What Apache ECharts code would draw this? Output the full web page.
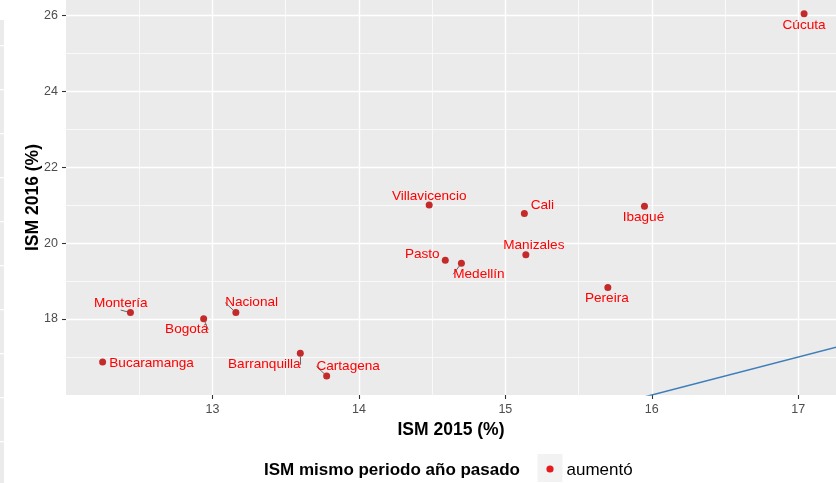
<!DOCTYPE html>
<html><head><meta charset="utf-8">
<script src="https://cdn.jsdelivr.net/npm/echarts@6/dist/echarts.min.js"></script>
<style>html,body{margin:0;padding:0;background:#fff}#c{width:836px;height:483px}</style>
</head><body><div id="c"></div>
<script>
// ---- data ----
const cities = ['Cúcuta', 'Ibagué', 'Pereira', 'Manizales', 'Cali', 'Villavicencio', 'Pasto', 'Medellín',
  'Montería', 'Bogotá', 'Nacional', 'Bucaramanga', 'Barranquilla', 'Cartagena'];
const ism2015 = [17.04, 15.95, 15.70, 15.14, 15.13, 14.48, 14.59, 14.70, 12.44, 12.94, 13.16, 12.25, 13.60, 13.78];
const ism2016 = [26.04, 20.97, 18.83, 19.69, 20.78, 21.00, 19.55, 19.47, 18.17, 18.01, 18.17, 16.87, 17.10, 16.50];
const xTicks = [13, 14, 15, 16, 17];
const yTicks = [18, 20, 22, 24, 26];
const identityLine = [15, 18];           // y = x reference line
const seriesName = 'aumentó';
const legendTitle = 'ISM mismo periodo año pasado';
const xTitle = 'ISM 2015 (%)';
const yTitle = 'ISM 2016 (%)';

// ---- label layout (pixel offsets of label centre from point) ----
const labelOffsets = [[0, 11.5], [-1, 11], [-1, 10.5], [8, -10], [18, -8], [0, -9], [-23, -5.5], [17.5, 11],
  [-9.7, -9.5], [-17, 11], [15.7, -10], [49, 1], [-36, 11.5], [21.5, -9.7]];
const labelSegments = [false, false, false, false, false, false, false, true,
  true, true, true, false, true, true];

const FONT = "'Liberation Sans', Arial, Helvetica, sans-serif";
const chart = echarts.init(document.getElementById('c'), null, {renderer: 'canvas'});

const scatterData = cities.map((c, i) => ({
  name: c,
  value: [ism2015[i], ism2016[i]],
  labelLine: {show: labelSegments[i]}
}));

// left decorative strip (edge of neighbouring panel)
const strip = [{type: 'rect', shape: {x: 0, y: 20, width: 4, height: 463}, style: {fill: '#EBEBEB'}, silent: true}];
for (let k = 0; k < 10; k++) {
  strip.push({type: 'rect', shape: {x: 0, y: 45 + 44 * k, width: 4, height: 1.2}, style: {fill: '#fff'}, silent: true});
}

chart.setOption({
  animation: false,
  backgroundColor: '#fff',
  grid: {left: 66, right: 0, top: 0, bottom: 88, show: true, backgroundColor: '#EBEBEB', borderWidth: 0},
  xAxis: {
    type: 'value', min: 12, max: 17.258, interval: 1,
    name: xTitle, nameLocation: 'middle', nameGap: 21,
    nameTextStyle: {fontFamily: FONT, fontWeight: 'bold', fontSize: 17.5, color: '#000'},
    axisLine: {show: false},
    axisTick: {show: true, length: 4, lineStyle: {color: '#333', width: 1.1}, customValues: xTicks},
    axisLabel: {customValues: xTicks, margin: 8, fontFamily: FONT, fontSize: 12.5, color: '#4D4D4D'},
    splitLine: {show: true, lineStyle: {color: '#fff', width: 1.4}},
    minorSplitLine: {show: true, lineStyle: {color: '#fff', width: 0.7}},
    minorTick: {show: false, splitNumber: 2}
  },
  yAxis: {
    type: 'value', min: 16, max: 26.4, interval: 2,
    name: yTitle, nameLocation: 'middle', nameGap: 24, nameMoveOverlap: false,
    nameTextStyle: {fontFamily: FONT, fontWeight: 'bold', fontSize: 17.5, color: '#000'},
    axisLine: {show: false},
    axisTick: {show: true, length: 4, lineStyle: {color: '#333', width: 1.1}, customValues: yTicks},
    axisLabel: {customValues: yTicks, margin: 8, fontFamily: FONT, fontSize: 12.5, color: '#4D4D4D'},
    splitLine: {show: true, lineStyle: {color: '#fff', width: 1.4}},
    minorSplitLine: {show: true, lineStyle: {color: '#fff', width: 0.7}},
    minorTick: {show: false, splitNumber: 2}
  },
  series: [
    {
      type: 'line', clip: true, silent: true, symbol: 'none', z: 1,
      data: identityLine.map(v => [v, v]),
      lineStyle: {color: '#3C7DBA', width: 1.5}
    },
    {
      name: seriesName, type: 'scatter', symbol: 'circle', symbolSize: 7,
      itemStyle: {color: '#C42A2A', opacity: 1},
      data: scatterData,
      label: {show: true, position: 'inside', formatter: p => p.name,
        fontFamily: FONT, fontSize: 13.6, color: '#FF0000'},
      labelLine: {show: true, lineStyle: {color: '#555', width: 0.9}},
      labelLayout: p => ({dx: labelOffsets[p.dataIndex][0], dy: labelOffsets[p.dataIndex][1]}),
      z: 3
    }
  ],
  graphic: strip.concat([
    {type: 'text', right: 836 - 520, top: 462, style: {text: legendTitle, fontFamily: FONT, fontWeight: 'bold', fontSize: 17, fill: '#000'}},
    {type: 'rect', shape: {x: 537.5, y: 454, width: 25, height: 28}, style: {fill: '#F2F2F2'}},
    {type: 'circle', shape: {cx: 550, cy: 469, r: 3.6}, style: {fill: '#E41A1C'}},
    {type: 'text', left: 566.5, top: 462, style: {text: seriesName, fontFamily: FONT, fontSize: 17, fill: '#000'}}
  ])
});
</script></body></html>
